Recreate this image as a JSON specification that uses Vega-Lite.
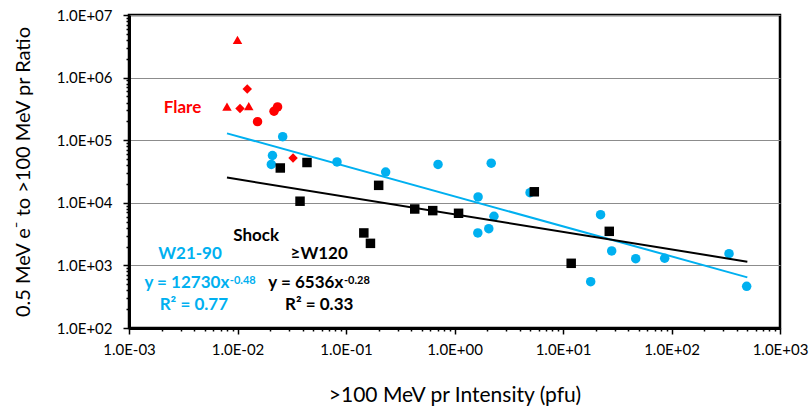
{
  "$schema": "https://vega.github.io/schema/vega-lite/v6.json",
  "width": 651,
  "height": 313,
  "autosize": {"type": "none"},
  "padding": {"left": 129, "top": 15, "right": 29, "bottom": 83},
  "background": "white",
  "config": {
    "font": "Lato",
    "view": {"stroke": "#000000", "strokeWidth": 2.5},
    "axis": {
      "domainColor": "#000000",
      "domainWidth": 3,
      "tickColor": "#000000",
      "tickWidth": 1.5,
      "labelFont": "Lato",
      "labelFontSize": 15,
      "labelColor": "#000000",
      "titleFont": "Lato",
      "titleFontWeight": "normal",
      "titleFontSize": 20,
      "titleColor": "#000000",
      "labelOverlap": false,
      "labelFlush": false,
      "labelBound": false
    }
  },
  "datasets": {
    "points": [
      {"x": 0.0261, "y": 114000, "group": "W21-90", "marker": "circle"},
      {"x": 0.021, "y": 57000, "group": "W21-90", "marker": "circle"},
      {"x": 0.0205, "y": 41000, "group": "W21-90", "marker": "circle"},
      {"x": 0.0826, "y": 45000, "group": "W21-90", "marker": "circle"},
      {"x": 0.232, "y": 31000, "group": "W21-90", "marker": "circle"},
      {"x": 0.705, "y": 41000, "group": "W21-90", "marker": "circle"},
      {"x": 2.18, "y": 43000, "group": "W21-90", "marker": "circle"},
      {"x": 1.65, "y": 12400, "group": "W21-90", "marker": "circle"},
      {"x": 4.97, "y": 14500, "group": "W21-90", "marker": "circle"},
      {"x": 1.64, "y": 3300, "group": "W21-90", "marker": "circle"},
      {"x": 2.07, "y": 3860, "group": "W21-90", "marker": "circle"},
      {"x": 2.31, "y": 6100, "group": "W21-90", "marker": "circle"},
      {"x": 22.2, "y": 6460, "group": "W21-90", "marker": "circle"},
      {"x": 28.1, "y": 1700, "group": "W21-90", "marker": "circle"},
      {"x": 46.8, "y": 1280, "group": "W21-90", "marker": "circle"},
      {"x": 86.5, "y": 1300, "group": "W21-90", "marker": "circle"},
      {"x": 18.0, "y": 550, "group": "W21-90", "marker": "circle"},
      {"x": 339, "y": 1540, "group": "W21-90", "marker": "circle"},
      {"x": 493, "y": 464, "group": "W21-90", "marker": "circle"},
      {"x": 0.0248, "y": 36000, "group": "W120", "marker": "square"},
      {"x": 0.0437, "y": 44000, "group": "W120", "marker": "square"},
      {"x": 0.0377, "y": 10600, "group": "W120", "marker": "square"},
      {"x": 0.2, "y": 19000, "group": "W120", "marker": "square"},
      {"x": 0.43, "y": 7960, "group": "W120", "marker": "square"},
      {"x": 0.63, "y": 7500, "group": "W120", "marker": "square"},
      {"x": 1.09, "y": 6800, "group": "W120", "marker": "square"},
      {"x": 0.146, "y": 3300, "group": "W120", "marker": "square"},
      {"x": 0.168, "y": 2250, "group": "W120", "marker": "square"},
      {"x": 5.44, "y": 15000, "group": "W120", "marker": "square"},
      {"x": 11.9, "y": 1080, "group": "W120", "marker": "square"},
      {"x": 26.7, "y": 3500, "group": "W120", "marker": "square"},
      {"x": 0.01, "y": 4000000, "group": "Flare", "marker": "triangle-up"},
      {"x": 0.008, "y": 343000, "group": "Flare", "marker": "triangle-up"},
      {"x": 0.0127, "y": 350000, "group": "Flare", "marker": "triangle-up"},
      {"x": 0.01055, "y": 320000, "group": "Flare", "marker": "diamond"},
      {"x": 0.0123, "y": 660000, "group": "Flare", "marker": "diamond"},
      {"x": 0.0325, "y": 52000, "group": "Flare", "marker": "diamond"},
      {"x": 0.0217, "y": 290000, "group": "Flare", "marker": "circle"},
      {"x": 0.0234, "y": 340000, "group": "Flare", "marker": "circle"},
      {"x": 0.0153, "y": 198000, "group": "Flare", "marker": "circle"}
    ],
    "trend": [
      {"x": 0.008, "y": 128700, "group": "W21-90"},
      {"x": 500, "y": 644, "group": "W21-90"},
      {"x": 0.008, "y": 25300, "group": "W120"},
      {"x": 500, "y": 1147, "group": "W120"}
    ],
    "labels": [
      {"x": 0.00311, "y": 275000, "group": "Flare", "text": "Flare"},
      {"x": 0.01487, "y": 2481, "group": "W120", "text": "Shock"},
      {"x": 0.00365, "y": 1251, "group": "W21-90", "text": "W21-90"},
      {"x": 0.0566, "y": 1251, "group": "W120", "text": "≥W120"},
      {"x": 0.00396, "y": 193.9, "group": "W21-90", "text": "R² = 0.77"},
      {"x": 0.0566, "y": 193.9, "group": "W120", "text": "R² = 0.33"}
    ],
    "equations": [
      {"x": 0.0084, "y": 430.8, "group": "W21-90", "text": "y = 12730x"},
      {"x": 0.0944, "y": 430.8, "group": "W120", "text": "y = 6536x"}
    ],
    "exponents": [
      {"x": 0.0085, "y": 504.6, "group": "W21-90", "text": "-0.48"},
      {"x": 0.0958, "y": 504.6, "group": "W120", "text": "-0.28"}
    ]
  },
  "encoding": {
    "x": {
      "field": "x",
      "type": "quantitative",
      "scale": {"type": "log", "domain": [0.001, 1000], "nice": false},
      "axis": {
        "title": ">100 MeV pr Intensity (pfu)",
        "titleFontSize": 21,
        "titleY": 67,
        "titleBaseline": "middle",
        "grid": false,
        "values": [0.001,0.002,0.003,0.004,0.005,0.006,0.007,0.008,0.009,0.01,0.02,0.03,0.04,0.05,0.06,0.07,0.08,0.09,0.1,0.2,0.3,0.4,0.5,0.6,0.7,0.8,0.9,1,2,3,4,5,6,7,8,9,10,20,30,40,50,60,70,80,90,100,200,300,400,500,600,700,800,900,1000],
        "tickSize": {"condition": {"test": "abs(log(datum.value)/LN10 - round(log(datum.value)/LN10)) < 0.001", "value": 6}, "value": 3},
        "labelPadding": 8,
        "labelExpr": "abs(log(datum.value)/LN10 - round(log(datum.value)/LN10)) < 0.001 ? '1.0E' + (round(log(datum.value)/LN10) < 0 ? '-' : '+') + (abs(round(log(datum.value)/LN10)) < 10 ? '0' : '') + abs(round(log(datum.value)/LN10)) : ''"
      }
    },
    "y": {
      "field": "y",
      "type": "quantitative",
      "scale": {"type": "log", "domain": [100, 10000000], "nice": false},
      "axis": {
        "title": "0.5 MeV e⁻ to >100 MeV pr Ratio",
        "titleX": -106,
        "titleBaseline": "middle",
        "grid": true,
        "gridColor": "#8c8c8c",
        "gridWidth": 1.2,
        "gridOpacity": {"condition": {"test": "abs(log(datum.value)/LN10 - round(log(datum.value)/LN10)) < 0.001", "value": 1}, "value": 0},
        "values": [100,200,300,400,500,600,700,800,900,1000,2000,3000,4000,5000,6000,7000,8000,9000,10000,20000,30000,40000,50000,60000,70000,80000,90000,100000,200000,300000,400000,500000,600000,700000,800000,900000,1000000,2000000,3000000,4000000,5000000,6000000,7000000,8000000,9000000,10000000],
        "tickSize": {"condition": {"test": "abs(log(datum.value)/LN10 - round(log(datum.value)/LN10)) < 0.001", "value": 6}, "value": 3},
        "labelPadding": 11,
        "labelExpr": "abs(log(datum.value)/LN10 - round(log(datum.value)/LN10)) < 0.001 ? '1.0E' + (round(log(datum.value)/LN10) < 0 ? '-' : '+') + (abs(round(log(datum.value)/LN10)) < 10 ? '0' : '') + abs(round(log(datum.value)/LN10)) : ''"
      }
    },
    "color": {
      "field": "group",
      "type": "nominal",
      "scale": {"domain": ["Flare", "W21-90", "W120"], "range": ["#FF0000", "#00B0F0", "#000000"]},
      "legend": null
    }
  },
  "layer": [
    {
      "data": {"name": "points"},
      "mark": {"type": "point", "filled": true, "opacity": 1, "size": 90},
      "encoding": {
        "shape": {"field": "marker", "type": "nominal", "scale": null}
      }
    },
    {
      "data": {"name": "trend"},
      "mark": {"type": "line", "strokeWidth": 2},
      "encoding": {"detail": {"field": "group"}}
    },
    {
      "data": {"name": "labels"},
      "mark": {"type": "text", "fontSize": 17, "fontWeight": "bold", "align": "center", "baseline": "alphabetic"},
      "encoding": {"text": {"field": "text"}}
    },
    {
      "data": {"name": "equations"},
      "mark": {"type": "text", "fontSize": 17, "fontWeight": "bold", "align": "right", "baseline": "alphabetic"},
      "encoding": {"text": {"field": "text"}}
    },
    {
      "data": {"name": "exponents"},
      "mark": {"type": "text", "fontSize": 11, "fontWeight": "bold", "align": "left", "baseline": "alphabetic"},
      "encoding": {"text": {"field": "text"}}
    }
  ]
}
